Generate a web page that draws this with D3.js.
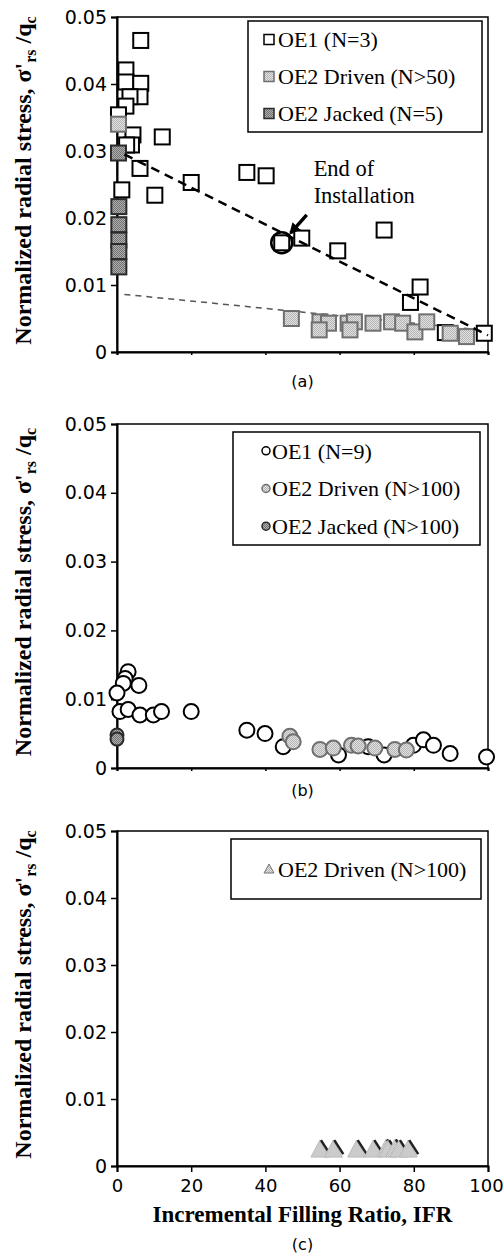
<!DOCTYPE html>
<html>
<head>
<meta charset="utf-8">
<script src="https://cdn.jsdelivr.net/npm/d3@7"></script>
<style>
  body { margin: 0; background: #fff; }
  svg text { fill: #000; }
</style>
</head>
<body>
<svg id="chart" width="504" height="1256"></svg>
<script>
// ---- data ----
// panel (a): squares
const aOE1Ifr = [6.4, 2.4, 2.4, 6.4, 6.2, 3.5, 2.4, 0.4, 4.3, 3.9, 2.6, 12.2, 6.2, 20, 1.3, 10.2, 35, 40.2, 44.4, 49.8, 59.5, 72, 81.7, 79.1, 88.5, 99];
const aOE1Val = [0.0465, 0.0421, 0.0403, 0.0401, 0.0381, 0.0381, 0.0367, 0.0354, 0.0324, 0.0309, 0.0309, 0.0321, 0.0274, 0.0253, 0.0242, 0.0234, 0.0268, 0.0263, 0.0163, 0.0170, 0.0151, 0.0182, 0.0097, 0.0074, 0.0029, 0.0028];
const aDrivenIfr = [0.4, 47, 54.7, 57, 54.5, 62.3, 64, 62.8, 69, 74, 77, 80.3, 83.5, 89.8, 94.2];
const aDrivenVal = [0.0340, 0.0050, 0.0045, 0.0043, 0.0033, 0.0043, 0.0045, 0.0033, 0.0043, 0.0045, 0.0043, 0.0030, 0.0045, 0.0028, 0.0023];
const aJackedIfr = [0.4, 0.5, 0.5, 0.5, 0.5, 0.5];
const aJackedVal = [0.0297, 0.0217, 0.0190, 0.0167, 0.0150, 0.0127];
// trend lines in (a)
const trendIfr = [2, 100];
const trendOE1 = [0.0295, 0.0025];
const trendOE2 = [0.0086, 0.0032];
// end of installation point
const eoiIfr = 44.4, eoiVal = 0.0163;

// panel (b): circles
const bOE1Ifr = [3.0, 2.2, 1.7, 5.9, 0, 0.8, 3.0, 6.2, 9.8, 12.0, 20, 35, 39.9, 44.8, 59.7, 67.7, 72, 79.9, 82.6, 85.3, 89.8, 99.6];
const bOE1Val = [0.0140, 0.0130, 0.0123, 0.0120, 0.0109, 0.0082, 0.0085, 0.0077, 0.0077, 0.0082, 0.0082, 0.0055, 0.0050, 0.0031, 0.0019, 0.0031, 0.0019, 0.0033, 0.0041, 0.0033, 0.0021, 0.0016];
const bDrivenIfr = [46.6, 47.5, 54.7, 58.3, 63.2, 65, 69.5, 74.9, 78];
const bDrivenVal = [0.0046, 0.0038, 0.0027, 0.0029, 0.0033, 0.0032, 0.0029, 0.0027, 0.0026];
const bJackedIfr = [0, 0];
const bJackedVal = [0.0048, 0.0042];

// panel (c): triangles
const cDrivenIfr = [54.7, 58.3, 64.6, 69.1, 72.5, 73.1, 74.9, 76, 78.5];
const cDrivenVal = [0.0026, 0.0026, 0.0026, 0.0026, 0.0027, 0.0026, 0.0027, 0.0026, 0.0026];

const yTicks = [0, 0.01, 0.02, 0.03, 0.04, 0.05];
const xTicks = [0, 20, 40, 60, 80, 100];

const legendA = ["OE1 (N=3)", "OE2 Driven (N>50)", "OE2 Jacked (N=5)"];
const legendB = ["OE1 (N=9)", "OE2 Driven (N>100)", "OE2 Jacked (N>100)"];
const legendC = ["OE2 Driven (N>100)"];

const zip = (xs, ys) => xs.map((x, i) => ({ x: x, y: ys[i] }));

// ---- layout ----
const serif = "'Liberation Serif', 'Times New Roman', serif";
const sans = "'DejaVu Sans', Arial, sans-serif";
const left = 117, right = 488;
const panels = [
    { top: 17, bottom: 352, caption: "(a)", capY: 387 },
    { top: 424, bottom: 768, caption: "(b)", capY: 796 },
    { top: 831, bottom: 1166, caption: "(c)", capY: 1250 }
];

const svg = d3.select("#chart");
const x = d3.scaleLinear().domain([0, 100]).range([left, right]);

// halftone-ish fills like the scanned figure
const defs = svg.append("defs");
function dots(id, base, dot) {
    const p = defs.append("pattern").attr("id", id)
        .attr("width", 2).attr("height", 2).attr("patternUnits", "userSpaceOnUse");
    p.append("rect").attr("width", 2).attr("height", 2).attr("fill", base);
    p.append("rect").attr("width", 1).attr("height", 1).attr("fill", dot);
    p.append("rect").attr("x", 1).attr("y", 1).attr("width", 1).attr("height", 1).attr("fill", dot);
}
dots("dotLight", "#e2e2e2", "#b4b4b4");
dots("dotDark", "#b0b0b0", "#707070");

const openStyle = { fill: "#fff", stroke: "#000" };
const drivenStyle = { fill: "url(#dotLight)", stroke: "#6f6f6f" };
const jackedStyle = { fill: "url(#dotDark)", stroke: "#2a2a2a" };

function drawFrame(p, i) {
    const y = d3.scaleLinear().domain([0, 0.05]).range([p.bottom, p.top]);
    const g = svg.append("g");

    g.append("rect")
        .attr("x", left).attr("y", p.top)
        .attr("width", right - left).attr("height", p.bottom - p.top)
        .attr("fill", "none").attr("stroke", "#000").attr("stroke-width", 1.5);

    const yAxis = d3.axisLeft(y).tickValues(yTicks).tickSize(6).tickPadding(4)
        .tickFormat(d => d === 0 ? "0" : d.toFixed(2));
    const ya = g.append("g").attr("transform", `translate(${left},0)`).call(yAxis);
    ya.select(".domain").attr("stroke-width", 2);
    ya.selectAll("line").attr("stroke-width", 1.5);
    ya.selectAll("text").attr("font-family", sans).attr("font-size", 19);

    const last = i === 2;
    const xAxis = d3.axisBottom(x).tickValues(xTicks).tickSize(last ? 6 : 3).tickPadding(7)
        .tickFormat(last ? d3.format("d") : "");
    const xa = g.append("g").attr("transform", `translate(0,${p.bottom})`).call(xAxis);
    xa.select(".domain").attr("stroke-width", 2);
    xa.selectAll("line").attr("stroke-width", 1.5);
    xa.selectAll("text").attr("font-family", sans).attr("font-size", 18)
        .attr("dx", d => d === 100 ? -2 : 0);

    // y label
    const lab = g.append("text")
        .attr("transform", `translate(31,${(p.top + p.bottom) / 2 - 4}) rotate(-90)`)
        .attr("text-anchor", "middle")
        .attr("font-family", serif).attr("font-weight", "bold").attr("font-size", 24);
    lab.append("tspan").text("Normalized radial stress, σ'");
    lab.append("tspan").attr("font-size", 16).attr("dy", 5).text("rs");
    lab.append("tspan").attr("dy", -5).text(" /q");
    lab.append("tspan").attr("font-size", 16).attr("dy", 5).text("c");

    g.append("text")
        .attr("x", x(50)).attr("y", p.capY)
        .attr("text-anchor", "middle")
        .attr("font-family", sans).attr("font-size", 16)
        .text(p.caption);

    return { g: g, y: y };
}

function squares(g, y, data, st, size) {
    g.selectAll(null).data(data).enter().append("rect")
        .attr("x", d => x(d.x) - size / 2)
        .attr("y", d => y(d.y) - size / 2)
        .attr("width", size).attr("height", size)
        .attr("fill", st.fill).attr("stroke", st.stroke).attr("stroke-width", 2);
}

function circles(g, y, data, st, r) {
    g.selectAll(null).data(data).enter().append("circle")
        .attr("cx", d => x(d.x)).attr("cy", d => y(d.y)).attr("r", r)
        .attr("fill", st.fill).attr("stroke", st.stroke).attr("stroke-width", 2);
}

function triangles(g, y, data, w, h) {
    const tg = g.selectAll(null).data(data).enter().append("g")
        .attr("transform", d => `translate(${x(d.x)},${y(d.y)})`);
    tg.append("path")
        .attr("d", `M${-w / 2},${h / 2}L0,${-h / 2}L${w / 2},${h / 2}Z`)
        .attr("fill", "url(#dotLight)").attr("stroke", "#bbb").attr("stroke-width", 1);
    tg.append("path")
        .attr("d", `M1,${-h / 2}L${w / 2 + 1},${h / 2 - 3}`)
        .attr("stroke", "#222").attr("stroke-width", 2.5);
}

// mx / tx: marker centre and text start, measured from the box's left edge
function legend(g, x0, y0, w, h, mx, tx, labels, drawMarker) {
    g.append("rect").attr("x", x0).attr("y", y0).attr("width", w).attr("height", h)
        .attr("fill", "#fff").attr("stroke", "#000").attr("stroke-width", 1.5);
    const step = h / labels.length;
    labels.forEach((t, k) => {
        const cy = y0 + step * (k + 0.5);
        drawMarker(g, x0 + mx, cy, k);
        g.append("text").attr("x", x0 + tx).attr("y", cy).attr("dy", "0.35em")
            .attr("font-family", serif).attr("font-size", 22).text(t);
    });
}

// ---- panel (a) ----
(function () {
    const { g, y } = drawFrame(panels[0], 0);
    const line = d3.line().x(d => x(d.x)).y(d => y(d.y));

    g.append("path").datum(zip(trendIfr, trendOE2)).attr("d", line)
        .attr("fill", "none").attr("stroke", "#555").attr("stroke-width", 1.5)
        .attr("stroke-dasharray", "6,5");

    squares(g, y, zip(aOE1Ifr, aOE1Val), openStyle, 15);
    squares(g, y, zip(aDrivenIfr, aDrivenVal), drivenStyle, 15);
    squares(g, y, zip(aJackedIfr, aJackedVal), jackedStyle, 15);

    g.append("path").datum(zip(trendIfr, trendOE1)).attr("d", line)
        .attr("fill", "none").attr("stroke", "#000").attr("stroke-width", 2.5)
        .attr("stroke-dasharray", "9,6");

    // end of installation marker
    const ex = x(eoiIfr), ey = y(eoiVal);
    g.append("circle").attr("cx", ex).attr("cy", ey).attr("r", 10.5)
        .attr("fill", "none").attr("stroke", "#000").attr("stroke-width", 2.5);
    defs.append("marker").attr("id", "arrow")
        .attr("viewBox", "0 0 10 10").attr("refX", 8).attr("refY", 5)
        .attr("markerWidth", 3.2).attr("markerHeight", 3.2).attr("orient", "auto")
        .append("path").attr("d", "M0,0L10,5L0,10Z").attr("fill", "#000");
    g.append("line")
        .attr("x1", ex + 25).attr("y1", ey - 28)
        .attr("x2", ex + 9).attr("y2", ey - 10)
        .attr("stroke", "#000").attr("stroke-width", 3.5)
        .attr("marker-end", "url(#arrow)");
    const note = g.append("text").attr("font-family", serif).attr("font-size", 22.5);
    note.append("tspan").attr("x", x(53)).attr("y", y(0.0262)).text("End of");
    note.append("tspan").attr("x", x(53)).attr("y", y(0.0222)).text("Installation");

    legend(g, 248, 21, 234, 111, 21, 30, legendA, (lg, mx, my, k) => {
        const st = [openStyle, drivenStyle, jackedStyle][k];
        lg.append("rect").attr("x", mx - 5).attr("y", my - 5).attr("width", 10).attr("height", 10)
            .attr("fill", st.fill).attr("stroke", st.stroke).attr("stroke-width", 1.5);
    });
})();

// ---- panel (b) ----
(function () {
    const { g, y } = drawFrame(panels[1], 1);
    circles(g, y, zip(bOE1Ifr, bOE1Val), openStyle, 7.5);
    circles(g, y, zip(bDrivenIfr, bDrivenVal), drivenStyle, 7.5);
    circles(g, y, zip(bJackedIfr, bJackedVal), jackedStyle, 6.5);

    legend(g, 233, 432, 247, 113, 33, 39, legendB, (lg, mx, my, k) => {
        const st = [openStyle, drivenStyle, jackedStyle][k];
        lg.append("circle").attr("cx", mx).attr("cy", my).attr("r", 4)
            .attr("fill", st.fill).attr("stroke", st.stroke).attr("stroke-width", 1.5);
    });
})();

// ---- panel (c) ----
(function () {
    const { g, y } = drawFrame(panels[2], 2);
    triangles(g, y, zip(cDrivenIfr, cDrivenVal), 18, 17);

    legend(g, 231, 839, 250, 60, 38, 47, legendC, (lg, mx, my) => {
        lg.append("path")
            .attr("d", `M${mx - 5},${my + 4}L${mx},${my - 5}L${mx + 5},${my + 4}Z`)
            .attr("fill", "url(#dotLight)").attr("stroke", "#777").attr("stroke-width", 1);
    });

    g.append("text")
        .attr("x", x(50)).attr("y", 1222)
        .attr("text-anchor", "middle")
        .attr("font-family", serif).attr("font-weight", "bold").attr("font-size", 23)
        .text("Incremental Filling Ratio, IFR");
})();
</script>
</body>
</html>
